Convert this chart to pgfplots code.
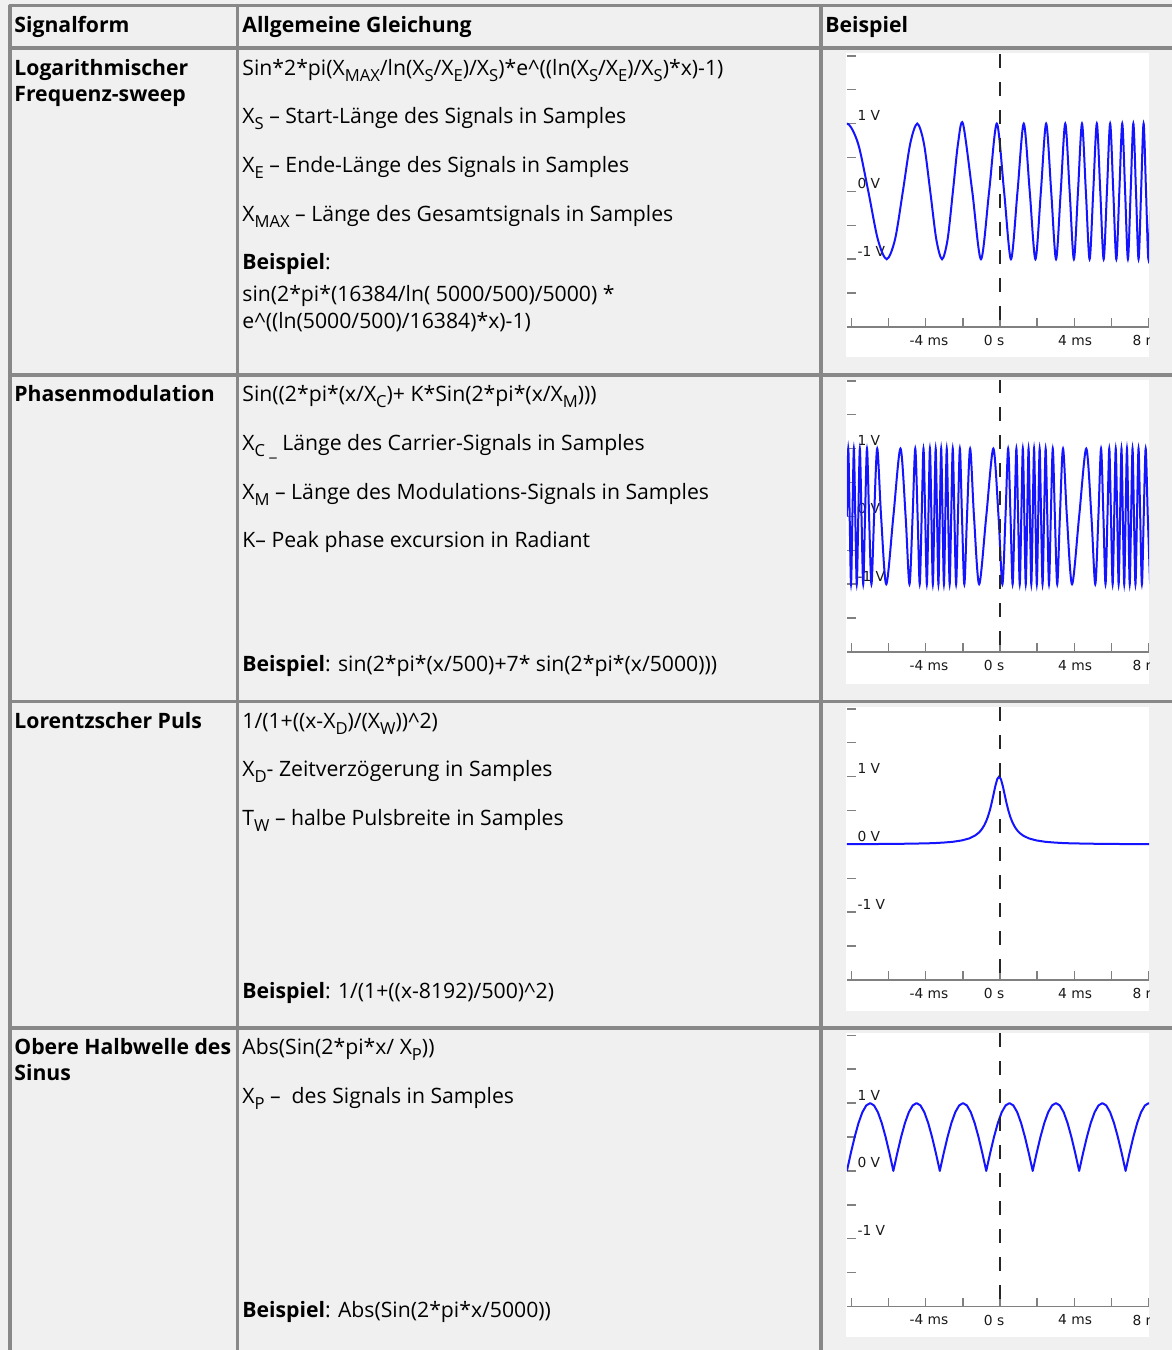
\documentclass[border=0pt]{standalone}
\usepackage{fontspec}
\setmainfont{Open Sans}
\newfontfamily\tickfam{DejaVu Sans}
\usepackage{pgfplots}
\pgfplotsset{compat=1.18}
\definecolor{gridc}{RGB}{136,136,136}
\definecolor{bgc}{RGB}{240,240,240}
\definecolor{wave}{RGB}{20,20,255}
\newcommand\sub[1]{\raisebox{-0.3em}{\fontsize{8.3}{9}\selectfont #1}}
\pgfplotsset{sig/.style={
  anchor=south west, x=9.29pt, y=33.9pt,
  xmin=-8.24, xmax=8.03, ymin=-2, ymax=2.03,
  axis line style={draw=none},
  xtick pos=bottom, ytick pos=left, tick align=inside,
  major tick length=4.5pt,
  tick style={color=gray, line width=0.75pt},
  xtick={-8,-6,...,8},
  xticklabels={,,-4 ms,,0 s,,4 ms,,8 ms},
  ytick={-1.5,-1,...,2},
  yticklabels={,-1 V,,0 V,,1 V,,},
  ticklabel style={font=\tickfam\fontsize{6.9}{8}\selectfont, text=black!90},
  xticklabel style={anchor=north west, inner sep=0pt, xshift=-8.25pt, yshift=-4pt},
  yticklabel style={anchor=west, xshift=1.8pt, yshift=4pt},
  clip=true,
}}
\begin{document}
\begin{tikzpicture}[x=0.5pt,y=0.5pt,font=\fontsize{10.6}{12}\selectfont]
\path[use as bounding box, fill=bgc] (0,0) rectangle (1172,-1350);
% white chart areas
\foreach \r in {48,375,701.5,1028}{
  \fill[white] (846,-\r-5) rectangle (1149,-\r-309);
}
% table lines
\begin{scope}[gridc, line width=1.75pt]
\draw (8.5,-5.5) -- (1172,-5.5);
\draw (8.5,-48) -- (1172,-48);
\draw (8.5,-375) -- (1172,-375);
\draw (8.5,-701.5) -- (1172,-701.5);
\draw (8.5,-1028) -- (1172,-1028);
\draw (10,-4.5) -- (10,-1350);
\draw (237.5,-4.5) -- (237.5,-1350);
\draw (821,-4.5) -- (821,-1350);
\end{scope}
\begin{scope}[every node/.style={anchor=base west, inner sep=0pt}]
% header
\node at (14,-32) {\textbf{Signalform}};
\node at (242,-32) {\textbf{Allgemeine Gleichung}};
\node at (825,-32) {\textbf{Beispiel}};
% row 1
\node at (14,-75) {\textbf{Logarithmischer}};
\node at (14,-101) {\textbf{Frequenz-sweep}};
\node at (242,-75) {Sin*2*pi(X\sub{MAX}/ln(X\sub{S}/X\sub{E})/X\sub{S})*e\textasciicircum((ln(X\sub{S}/X\sub{E})/X\sub{S})*x)-1)};
\node at (242,-123) {X\sub{S} – Start-Länge des Signals in Samples};
\node at (242,-172) {X\sub{E} – Ende-Länge des Signals in Samples};
\node at (242,-221) {X\sub{MAX} – Länge des Gesamtsignals in Samples};
\node at (242,-269) {\textbf{Beispiel}:};
\node at (242,-301) {sin(2*pi*(16384/ln( 5000/500)/5000) *};
\node at (242,-328) {e\textasciicircum((ln(5000/500)/16384)*x)-1)};
% row 2
\node at (14,-401) {\textbf{Phasenmodulation}};
\node at (242,-401) {Sin((2*pi*(x/X\sub{C})+ K*Sin(2*pi*(x/X\sub{M})))};
\node at (242,-450) {X\sub{C \_} Länge des Carrier-Signals in Samples};
\node at (242,-499) {X\sub{M} – Länge des Modulations-Signals in Samples};
\node at (242,-547) {K– Peak phase excursion in Radiant};
\node at (242,-671) {\textbf{Beispiel}: sin(2*pi*(x/500)+7* sin(2*pi*(x/5000)))};
% row 3
\node at (14,-728) {\textbf{Lorentzscher Puls}};
\node at (242,-728) {1/(1+((x-X\sub{D})/(X\sub{W}))\textasciicircum 2)};
\node at (242,-776) {X\sub{D}- Zeitverzögerung in Samples};
\node at (242,-825) {T\sub{W} – halbe Pulsbreite in Samples};
\node at (242,-998) {\textbf{Beispiel}: 1/(1+((x-8192)/500)\textasciicircum 2)};
% row 4
\node at (14,-1054) {\textbf{Obere Halbwelle des}};
\node at (14,-1080) {\textbf{Sinus}};
\node at (242,-1054) {Abs(Sin(2*pi*x/ X\sub{P}))};
\node at (242,-1103) {X\sub{P} –\ \ des Signals in Samples};
\node at (242,-1317) {\textbf{Beispiel}: Abs(Sin(2*pi*x/5000))};
\end{scope}
\coordinate (A1) at (846.9,-327);
\coordinate (A2) at (846.9,-652);
\coordinate (A3) at (846.9,-980);
\coordinate (A4) at (846.9,-1306.5);
% chart 1: log sweep
\begin{scope}
\clip (846,-53) rectangle (1149,-357);
\begin{axis}[sig, at={(A1)}]
\draw[gray, line width=0.75pt] (axis cs:-8.24,-2) -- (axis cs:8.03,-2);
\addplot[wave, line width=1pt, smooth] coordinates {
(-8.894,0.707) (-8.240,1) (-7.641,0.707) (-7.088,0) (-6.576,-0.707) (-6.098,-1) (-5.649,-0.707) (-5.228,0) (-4.830,0.707) (-4.453,1) (-4.095,0.707) (-3.754,0) (-3.429,-0.707) (-3.118,-1) (-2.820,-0.707) (-2.534,0) (-2.259,0.707) (-1.994,1) (-1.493,0) (-1.024,-1) (-0.585,0) (-0.171,1) (0.220,0) (0.591,-1) (0.943,0) (1.279,1) (1.600,0) (1.907,-1) (2.201,0) (2.484,1) (2.755,0) (3.017,-1) (3.269,0) (3.513,1) (3.749,0) (3.977,-1) (4.198,0) (4.413,1) (4.621,0) (4.823,-1) (5.019,0) (5.211,1) (5.397,0) (5.579,-1) (5.756,0) (5.928,1) (6.097,0) (6.262,-1) (6.423,0) (6.580,1) (6.734,0) (6.885,-1) (7.033,0) (7.177,1) (7.319,0) (7.458,-1) (7.595,0) (7.728,1) (7.860,0) (7.989,-1) (8.115,0)};
\addplot[black!85, line width=1pt, dash pattern=on 7pt off 7pt] coordinates {(0,2.03) (0,-2)};
\end{axis}
\end{scope}
% chart 2: phase modulation
\begin{scope}
\clip (846,-380) rectangle (1149,-683);
\begin{axis}[sig, at={(A2)}]
\draw[gray, line width=0.75pt] (axis cs:-8.24,-2) -- (axis cs:8.03,-2);
\addplot[wave, line width=1pt, smooth] coordinates {
(-8.240,0) (-8.166,1) (-8.092,0) (-8.018,-1) (-7.943,0) (-7.866,1) (-7.789,0) (-7.709,-1) (-7.627,0) (-7.543,1) (-7.454,0) (-7.362,-1) (-7.264,0) (-7.159,1) (-7.046,0) (-6.919,-1) (-6.776,0) (-6.608,1) (-6.400,0) (-6.122,-1) (-5.740,0) (-5.358,1) (-5.080,0) (-4.872,-1) (-4.704,0) (-4.561,1) (-4.434,0) (-4.321,-1) (-4.216,0) (-4.118,1) (-4.026,0) (-3.937,-1) (-3.853,0) (-3.771,1) (-3.691,0) (-3.614,-1) (-3.537,0) (-3.462,1) (-3.388,0) (-3.314,-1) (-3.240,0)
(-3.166,1) (-3.092,0) (-3.018,-1) (-2.943,0) (-2.866,1) (-2.789,0) (-2.709,-1) (-2.627,0) (-2.543,1) (-2.454,0) (-2.362,-1) (-2.264,0) (-2.159,1) (-2.046,0) (-1.919,-1) (-1.776,0) (-1.608,1) (-1.400,0) (-1.122,-1) (-0.740,0) (-0.358,1) (-0.080,0) (0.128,-1) (0.296,0) (0.439,1) (0.566,0) (0.679,-1) (0.784,0) (0.882,1) (0.974,0) (1.063,-1) (1.147,0) (1.229,1) (1.309,0) (1.386,-1) (1.463,0) (1.538,1) (1.612,0) (1.686,-1) (1.760,0)
(1.834,1) (1.908,0) (1.982,-1) (2.057,0) (2.134,1) (2.211,0) (2.291,-1) (2.373,0) (2.457,1) (2.546,0) (2.638,-1) (2.736,0) (2.841,1) (2.954,0) (3.081,-1) (3.224,0) (3.392,1) (3.600,0) (3.878,-1) (4.260,0) (4.642,1) (4.920,0) (5.128,-1) (5.296,0) (5.439,1) (5.566,0) (5.679,-1) (5.784,0) (5.882,1) (5.974,0) (6.063,-1) (6.147,0) (6.229,1) (6.309,0) (6.386,-1) (6.463,0) (6.538,1) (6.612,0) (6.686,-1) (6.760,0)
(6.834,1) (6.908,0) (6.982,-1) (7.057,0) (7.134,1) (7.211,0) (7.291,-1) (7.373,0) (7.457,1) (7.546,0) (7.638,-1) (7.736,0) (7.841,1) (7.954,0) (8.081,-1)};
\addplot[black!85, line width=1pt, dash pattern=on 7pt off 7pt] coordinates {(0,2.03) (0,-2)};
\end{axis}
\end{scope}
% chart 3: Lorentz pulse
\begin{scope}
\clip (846,-706.5) rectangle (1149,-1010.5);
\begin{axis}[sig, at={(A3)}]
\draw[gray, line width=0.75pt] (axis cs:-8.24,-2) -- (axis cs:8.03,-2);
\addplot[wave, line width=1pt] coordinates {
(-8.24,0.004) (-7.05,0.005) (-6.05,0.007) (-5.05,0.010) (-4.05,0.015) (-3.55,0.019) (-3.05,0.027) (-2.55,0.038) (-2.05,0.059) (-1.65,0.089) (-1.35,0.129) (-1.15,0.171) (-1.05,0.200) (-0.95,0.236) (-0.85,0.281) (-0.75,0.338) (-0.65,0.410) (-0.55,0.500) (-0.45,0.610) (-0.35,0.735) (-0.25,0.862) (-0.15,0.962) (-0.05,1.000) (0.05,0.962) (0.15,0.862) (0.25,0.735) (0.35,0.610) (0.45,0.500) (0.55,0.410) (0.65,0.338) (0.75,0.281) (0.85,0.236) (0.95,0.200) (1.05,0.171) (1.25,0.129) (1.55,0.089) (1.95,0.059) (2.45,0.038) (2.95,0.027) (3.45,0.019) (3.95,0.015) (4.95,0.010) (5.95,0.007) (6.95,0.005) (8.1,0.004)};
\addplot[black!85, line width=1pt, dash pattern=on 7pt off 7pt] coordinates {(0,2.03) (0,-2)};
\end{axis}
\end{scope}
% chart 4: rectified sine
\begin{scope}
\clip (846,-1033) rectangle (1149,-1337);
\begin{axis}[sig, at={(A4)}]
\draw[gray, line width=0.75pt] (axis cs:-8.24,-2) -- (axis cs:8.03,-2);
\addplot[wave, line width=1pt, line join=round] coordinates {
(-8.240,0) (-8.032,0.259) (-7.823,0.5) (-7.615,0.707) (-7.407,0.866) (-7.198,0.966) (-6.990,1) (-6.782,0.966) (-6.573,0.866) (-6.365,0.707) (-6.157,0.5) (-5.948,0.259)
(-5.740,0) (-5.532,0.259) (-5.323,0.5) (-5.115,0.707) (-4.907,0.866) (-4.698,0.966) (-4.490,1) (-4.282,0.966) (-4.073,0.866) (-3.865,0.707) (-3.657,0.5) (-3.448,0.259)
(-3.240,0) (-3.032,0.259) (-2.823,0.5) (-2.615,0.707) (-2.407,0.866) (-2.198,0.966) (-1.990,1) (-1.782,0.966) (-1.573,0.866) (-1.365,0.707) (-1.157,0.5) (-0.948,0.259)
(-0.740,0) (-0.532,0.259) (-0.323,0.5) (-0.115,0.707) (0.093,0.866) (0.302,0.966) (0.510,1) (0.718,0.966) (0.927,0.866) (1.135,0.707) (1.343,0.5) (1.552,0.259)
(1.760,0) (1.968,0.259) (2.177,0.5) (2.385,0.707) (2.593,0.866) (2.802,0.966) (3.010,1) (3.218,0.966) (3.427,0.866) (3.635,0.707) (3.843,0.5) (4.052,0.259)
(4.260,0) (4.468,0.259) (4.677,0.5) (4.885,0.707) (5.093,0.866) (5.302,0.966) (5.510,1) (5.718,0.966) (5.927,0.866) (6.135,0.707) (6.343,0.5) (6.552,0.259)
(6.760,0) (6.968,0.259) (7.177,0.5) (7.385,0.707) (7.593,0.866) (7.802,0.966) (8.010,1) (8.218,0.966)};
\addplot[black!85, line width=1pt, dash pattern=on 7pt off 7pt] coordinates {(0,2.03) (0,-2)};
\end{axis}
\end{scope}
\end{tikzpicture}
\end{document}
